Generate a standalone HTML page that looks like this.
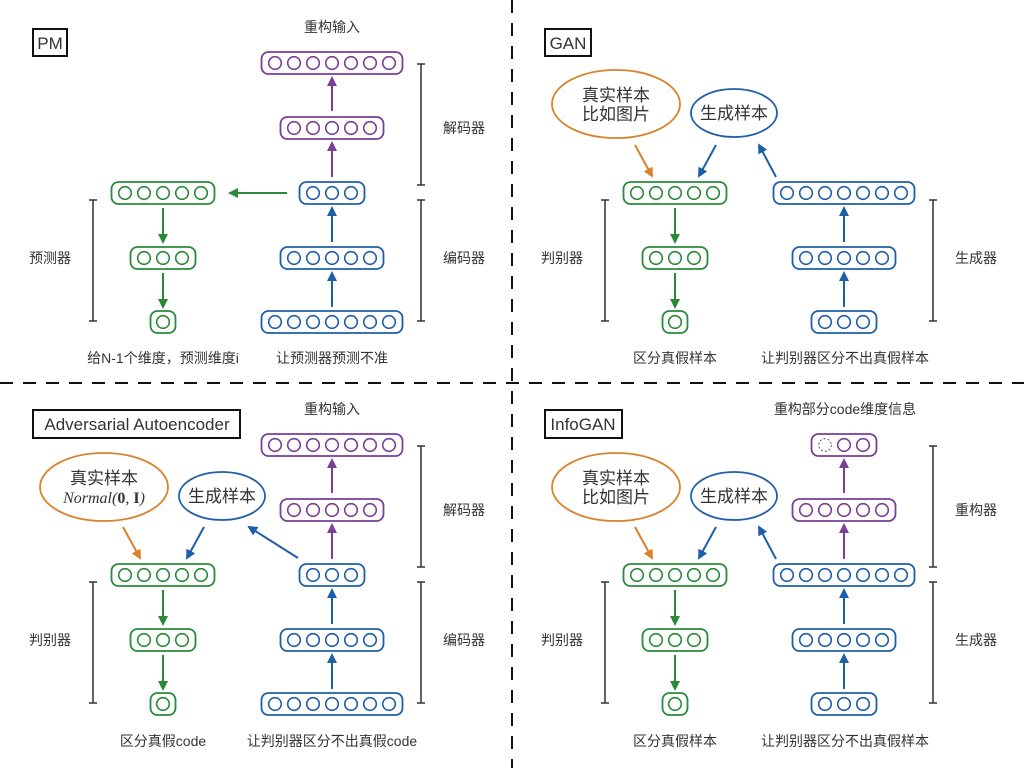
<!DOCTYPE html>
<html><head><meta charset="utf-8"><style>
html,body{margin:0;padding:0;background:#fff;}
svg{display:block;}
text{font-family:"Liberation Sans","Noto Sans CJK SC",sans-serif;fill:#333;}
</style></head><body>
<svg width="1024" height="768" viewBox="0 0 1024 768" xmlns="http://www.w3.org/2000/svg">
<defs>
<g id="b7"><rect x="-70.5" y="-11" width="141" height="22" rx="7" fill="#fff" stroke-width="1.8"/><g fill="none" stroke-width="1.6"><circle cx="-57" r="6.3"/><circle cx="-38" r="6.3"/><circle cx="-19" r="6.3"/><circle cx="0" r="6.3"/><circle cx="19" r="6.3"/><circle cx="38" r="6.3"/><circle cx="57" r="6.3"/></g></g>
<g id="b5"><rect x="-51.5" y="-11" width="103" height="22" rx="7" fill="#fff" stroke-width="1.8"/><g fill="none" stroke-width="1.6"><circle cx="-38" r="6.3"/><circle cx="-19" r="6.3"/><circle cx="0" r="6.3"/><circle cx="19" r="6.3"/><circle cx="38" r="6.3"/></g></g>
<g id="b3"><rect x="-32.5" y="-11" width="65" height="22" rx="7" fill="#fff" stroke-width="1.8"/><g fill="none" stroke-width="1.6"><circle cx="-19" r="6.3"/><circle cx="0" r="6.3"/><circle cx="19" r="6.3"/></g></g>
<g id="b3d"><rect x="-32.5" y="-11" width="65" height="22" rx="7" fill="#fff" stroke-width="1.8"/><g fill="none" stroke-width="1.6"><circle cx="-19" r="6.3" stroke="#555" stroke-width="1" stroke-dasharray="2 2"/><circle cx="0" r="6.3"/><circle cx="19" r="6.3"/></g></g>
<g id="b1"><rect x="-12.5" y="-11" width="25" height="22" rx="7" fill="#fff" stroke-width="1.8"/><circle cx="0" r="6.3" fill="none" stroke-width="1.6"/></g>
<marker id="mg" markerWidth="10" markerHeight="10" refX="8" refY="5" orient="auto" markerUnits="userSpaceOnUse"><path d="M0,0 L10,5 L0,10 Z" fill="#2a8a3a"/></marker>
<marker id="mb" markerWidth="10" markerHeight="10" refX="8" refY="5" orient="auto" markerUnits="userSpaceOnUse"><path d="M0,0 L10,5 L0,10 Z" fill="#1f5fa8"/></marker>
<marker id="mp" markerWidth="10" markerHeight="10" refX="8" refY="5" orient="auto" markerUnits="userSpaceOnUse"><path d="M0,0 L10,5 L0,10 Z" fill="#7a3f96"/></marker>
<marker id="mo" markerWidth="10" markerHeight="10" refX="8" refY="5" orient="auto" markerUnits="userSpaceOnUse"><path d="M0,0 L10,5 L0,10 Z" fill="#d9822b"/></marker>
</defs>

<!-- dividers -->
<line x1="512" y1="0" x2="512" y2="768" stroke="#111" stroke-width="2" stroke-dasharray="13 10"/>
<line x1="0" y1="383" x2="1024" y2="383" stroke="#111" stroke-width="2" stroke-dasharray="13 10"/>

<g stroke="#333" stroke-width="1.5" fill="none">
<!-- TL brackets -->
<path d="M421,64V185M417,64H425M417,185H425"/>
<path d="M421,200V321M417,200H425M417,321H425"/>
<path d="M93,200V321M89,200H97M89,321H97"/>
<!-- TR -->
<path d="M605,200V321M601,200H609M601,321H609"/>
<path d="M933,200V321M929,200H937M929,321H937"/>
<!-- BL -->
<path d="M421,446V567M417,446H425M417,567H425"/>
<path d="M421,582V703M417,582H425M417,703H425"/>
<path d="M93,582V703M89,582H97M89,703H97"/>
<!-- BR -->
<path d="M933,446V567M929,446H937M929,567H937"/>
<path d="M933,582V703M929,582H937M929,703H937"/>
<path d="M605,582V703M601,582H609M601,703H609"/>
</g>

<!-- ================= TL: PM ================= -->
<rect x="33" y="29" width="34" height="27" fill="none" stroke="#111" stroke-width="2"/>
<text x="50" y="49" font-size="17" text-anchor="middle">PM</text>
<text x="332" y="32" font-size="14" text-anchor="middle">重构输入</text>
<use href="#b7" x="332" y="63" stroke="#7a3f96"/>
<use href="#b5" x="332" y="128" stroke="#7a3f96"/>
<use href="#b3" x="332" y="193" stroke="#1f5fa8"/>
<use href="#b5" x="332" y="258" stroke="#1f5fa8"/>
<use href="#b7" x="332" y="322" stroke="#1f5fa8"/>
<use href="#b5" x="163" y="193" stroke="#2a8a3a"/>
<use href="#b3" x="163" y="258" stroke="#2a8a3a"/>
<use href="#b1" x="163" y="322" stroke="#2a8a3a"/>
<g stroke-width="2">
<line x1="332" y1="177" x2="332" y2="143" stroke="#7a3f96" marker-end="url(#mp)"/>
<line x1="332" y1="111" x2="332" y2="78" stroke="#7a3f96" marker-end="url(#mp)"/>
<line x1="332" y1="307" x2="332" y2="273" stroke="#1f5fa8" marker-end="url(#mb)"/>
<line x1="332" y1="242" x2="332" y2="208" stroke="#1f5fa8" marker-end="url(#mb)"/>
<line x1="163" y1="208" x2="163" y2="242" stroke="#2a8a3a" marker-end="url(#mg)"/>
<line x1="163" y1="273" x2="163" y2="307" stroke="#2a8a3a" marker-end="url(#mg)"/>
<line x1="287" y1="193" x2="230" y2="193" stroke="#2a8a3a" marker-end="url(#mg)"/>
</g>
<text x="464" y="133" font-size="14" text-anchor="middle">解码器</text>
<text x="464" y="263" font-size="14" text-anchor="middle">编码器</text>
<text x="50" y="263" font-size="14" text-anchor="middle">预测器</text>
<text x="163" y="363" font-size="14" text-anchor="middle">给N-1个维度，预测维度i</text>
<text x="332" y="363" font-size="14" text-anchor="middle">让预测器预测不准</text>

<!-- ================= TR: GAN ================= -->
<rect x="545" y="29" width="46" height="27" fill="none" stroke="#111" stroke-width="2"/>
<text x="568" y="49" font-size="17" text-anchor="middle">GAN</text>
<ellipse cx="616" cy="104" rx="64" ry="34" fill="#fff" stroke="#d9822b" stroke-width="1.8"/>
<text x="616" y="101" font-size="17" text-anchor="middle">真实样本</text>
<text x="616" y="120" font-size="17" text-anchor="middle">比如图片</text>
<ellipse cx="734" cy="113" rx="43" ry="24" fill="#fff" stroke="#1f5fa8" stroke-width="1.8"/>
<text x="734" y="119" font-size="17" text-anchor="middle">生成样本</text>
<use href="#b5" x="675" y="193" stroke="#2a8a3a"/>
<use href="#b3" x="675" y="258" stroke="#2a8a3a"/>
<use href="#b1" x="675" y="322" stroke="#2a8a3a"/>
<use href="#b7" x="844" y="193" stroke="#1f5fa8"/>
<use href="#b5" x="844" y="258" stroke="#1f5fa8"/>
<use href="#b3" x="844" y="322" stroke="#1f5fa8"/>
<g stroke-width="2">
<line x1="675" y1="208" x2="675" y2="242" stroke="#2a8a3a" marker-end="url(#mg)"/>
<line x1="675" y1="273" x2="675" y2="307" stroke="#2a8a3a" marker-end="url(#mg)"/>
<line x1="844" y1="307" x2="844" y2="273" stroke="#1f5fa8" marker-end="url(#mb)"/>
<line x1="844" y1="242" x2="844" y2="208" stroke="#1f5fa8" marker-end="url(#mb)"/>
<line x1="635" y1="145" x2="652" y2="176" stroke="#d9822b" marker-end="url(#mo)"/>
<line x1="716" y1="145" x2="699" y2="176" stroke="#1f5fa8" marker-end="url(#mb)"/>
<line x1="776" y1="177" x2="759" y2="145" stroke="#1f5fa8" marker-end="url(#mb)"/>
</g>
<text x="562" y="263" font-size="14" text-anchor="middle">判别器</text>
<text x="976" y="263" font-size="14" text-anchor="middle">生成器</text>
<text x="675" y="363" font-size="14" text-anchor="middle">区分真假样本</text>
<text x="845" y="363" font-size="14" text-anchor="middle">让判别器区分不出真假样本</text>

<!-- ================= BL: AAE ================= -->
<rect x="33" y="410" width="207" height="28" fill="none" stroke="#111" stroke-width="2"/>
<text x="137" y="430" font-size="17" text-anchor="middle">Adversarial Autoencoder</text>
<text x="332" y="414" font-size="14" text-anchor="middle">重构输入</text>
<ellipse cx="104" cy="487" rx="64" ry="34" fill="#fff" stroke="#d9822b" stroke-width="1.8"/>
<text x="104" y="484" font-size="17" text-anchor="middle">真实样本</text>
<text x="104" y="503" font-size="16" text-anchor="middle" style="font-family:'Liberation Serif',serif;font-style:italic">Normal(<tspan font-weight="bold" font-style="normal">0</tspan>, <tspan font-weight="bold" font-style="normal">I</tspan>)</text>
<ellipse cx="222" cy="496" rx="43" ry="24" fill="#fff" stroke="#1f5fa8" stroke-width="1.8"/>
<text x="222" y="502" font-size="17" text-anchor="middle">生成样本</text>
<use href="#b7" x="332" y="445" stroke="#7a3f96"/>
<use href="#b5" x="332" y="510" stroke="#7a3f96"/>
<use href="#b3" x="332" y="575" stroke="#1f5fa8"/>
<use href="#b5" x="332" y="640" stroke="#1f5fa8"/>
<use href="#b7" x="332" y="704" stroke="#1f5fa8"/>
<use href="#b5" x="163" y="575" stroke="#2a8a3a"/>
<use href="#b3" x="163" y="640" stroke="#2a8a3a"/>
<use href="#b1" x="163" y="704" stroke="#2a8a3a"/>
<g stroke-width="2">
<line x1="332" y1="559" x2="332" y2="525" stroke="#7a3f96" marker-end="url(#mp)"/>
<line x1="332" y1="493" x2="332" y2="460" stroke="#7a3f96" marker-end="url(#mp)"/>
<line x1="332" y1="689" x2="332" y2="655" stroke="#1f5fa8" marker-end="url(#mb)"/>
<line x1="332" y1="624" x2="332" y2="590" stroke="#1f5fa8" marker-end="url(#mb)"/>
<line x1="163" y1="590" x2="163" y2="624" stroke="#2a8a3a" marker-end="url(#mg)"/>
<line x1="163" y1="655" x2="163" y2="689" stroke="#2a8a3a" marker-end="url(#mg)"/>
<line x1="123" y1="527" x2="140" y2="558" stroke="#d9822b" marker-end="url(#mo)"/>
<line x1="204" y1="527" x2="187" y2="558" stroke="#1f5fa8" marker-end="url(#mb)"/>
<line x1="298" y1="558" x2="249" y2="527" stroke="#1f5fa8" marker-end="url(#mb)"/>
</g>
<text x="464" y="515" font-size="14" text-anchor="middle">解码器</text>
<text x="464" y="645" font-size="14" text-anchor="middle">编码器</text>
<text x="50" y="645" font-size="14" text-anchor="middle">判别器</text>
<text x="163" y="746" font-size="14" text-anchor="middle">区分真假code</text>
<text x="332" y="746" font-size="14" text-anchor="middle">让判别器区分不出真假code</text>

<!-- ================= BR: InfoGAN ================= -->
<rect x="545" y="410" width="77" height="28" fill="none" stroke="#111" stroke-width="2"/>
<text x="583" y="430" font-size="17" text-anchor="middle">InfoGAN</text>
<text x="845" y="414" font-size="14" text-anchor="middle">重构部分code维度信息</text>
<ellipse cx="616" cy="487" rx="64" ry="34" fill="#fff" stroke="#d9822b" stroke-width="1.8"/>
<text x="616" y="484" font-size="17" text-anchor="middle">真实样本</text>
<text x="616" y="503" font-size="17" text-anchor="middle">比如图片</text>
<ellipse cx="734" cy="496" rx="43" ry="24" fill="#fff" stroke="#1f5fa8" stroke-width="1.8"/>
<text x="734" y="502" font-size="17" text-anchor="middle">生成样本</text>
<use href="#b3d" x="844" y="445" stroke="#7a3f96"/>
<use href="#b5" x="844" y="510" stroke="#7a3f96"/>
<use href="#b7" x="844" y="575" stroke="#1f5fa8"/>
<use href="#b5" x="844" y="640" stroke="#1f5fa8"/>
<use href="#b3" x="844" y="704" stroke="#1f5fa8"/>
<use href="#b5" x="675" y="575" stroke="#2a8a3a"/>
<use href="#b3" x="675" y="640" stroke="#2a8a3a"/>
<use href="#b1" x="675" y="704" stroke="#2a8a3a"/>
<g stroke-width="2">
<line x1="844" y1="559" x2="844" y2="525" stroke="#7a3f96" marker-end="url(#mp)"/>
<line x1="844" y1="493" x2="844" y2="460" stroke="#7a3f96" marker-end="url(#mp)"/>
<line x1="844" y1="689" x2="844" y2="655" stroke="#1f5fa8" marker-end="url(#mb)"/>
<line x1="844" y1="624" x2="844" y2="590" stroke="#1f5fa8" marker-end="url(#mb)"/>
<line x1="675" y1="590" x2="675" y2="624" stroke="#2a8a3a" marker-end="url(#mg)"/>
<line x1="675" y1="655" x2="675" y2="689" stroke="#2a8a3a" marker-end="url(#mg)"/>
<line x1="635" y1="527" x2="652" y2="558" stroke="#d9822b" marker-end="url(#mo)"/>
<line x1="716" y1="527" x2="699" y2="558" stroke="#1f5fa8" marker-end="url(#mb)"/>
<line x1="776" y1="559" x2="759" y2="527" stroke="#1f5fa8" marker-end="url(#mb)"/>
</g>
<text x="976" y="515" font-size="14" text-anchor="middle">重构器</text>
<text x="976" y="645" font-size="14" text-anchor="middle">生成器</text>
<text x="562" y="645" font-size="14" text-anchor="middle">判别器</text>
<text x="675" y="746" font-size="14" text-anchor="middle">区分真假样本</text>
<text x="845" y="746" font-size="14" text-anchor="middle">让判别器区分不出真假样本</text>
</svg>
</body></html>
